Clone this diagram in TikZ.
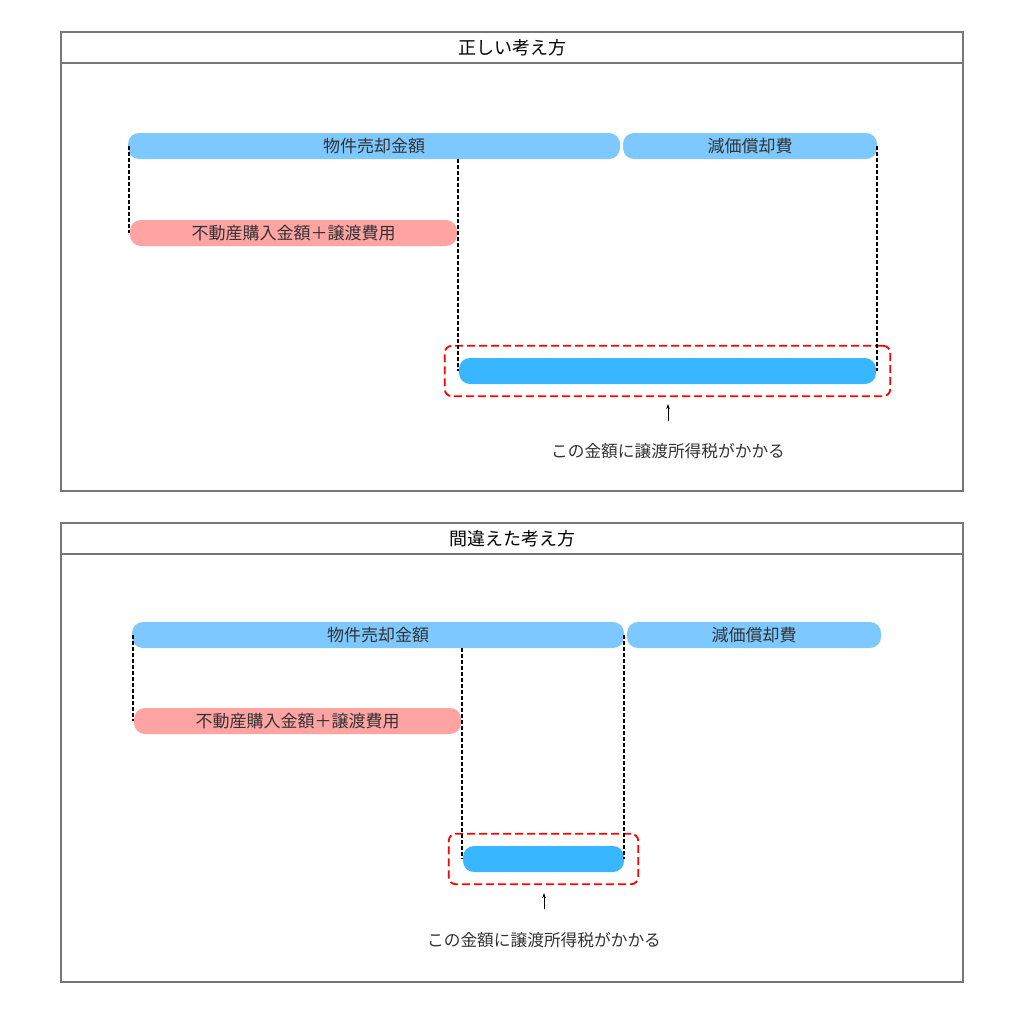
\documentclass[tikz,border=0pt]{standalone}
\usepackage{fontspec}
\setmainfont{Noto Sans CJK JP}
\usetikzlibrary{fit,arrows.meta}
\definecolor{lblue}{HTML}{7DC8FF}
\definecolor{pinkc}{HTML}{FFA3A3}
\definecolor{dblue}{HTML}{38B6FF}
\definecolor{txt}{HTML}{333333}
\definecolor{frame}{HTML}{777777}
\tikzset{
  bar/.style={rectangle, rounded corners=11pt, inner sep=0pt, minimum height=26pt, text=txt, font=\fontsize{17}{17}\selectfont},
  sellbar/.style={bar, fill=lblue},
  costbar/.style={bar, fill=pinkc},
  resbar/.style={bar, fill=dblue},
  conn/.style={draw=black, line width=2.2pt, dash pattern=on 4pt off 2pt},
  redbox/.style={draw=red, line width=1.8pt, dash pattern=on 8pt off 4pt, rounded corners=7pt, inner xsep=14pt, inner ysep=12pt},
  panel/.style={draw=frame, line width=1.2pt},
  ttl/.style={text=black, font=\fontsize{18}{18}\selectfont},
  note/.style={text=txt, font=\fontsize{16.7}{16.7}\selectfont},
  uparrow/.style={draw=black, line width=0.9pt, -{Stealth[length=5pt,width=3.5pt]}}
}
\begin{document}
\begin{tikzpicture}[x=1pt,y=-1pt]
\useasboundingbox[fill=white] (0,0) rectangle (1024,1015);
% ---------- panel 1 ----------
\draw[panel] (61,32) rectangle (963,491);
\draw[panel] (61,63) -- (963,63);
\node[ttl] (t1) at (512,48) {正しい考え方};
\node[sellbar, minimum width=492pt] (sell1) at (374,146) {物件売却金額};
\node[sellbar, minimum width=254pt] (dep1) at (750,146) {減価償却費};
\node[costbar, minimum width=327pt] (cost1) at (293.5,233) {不動産購入金額＋譲渡費用};
\node[resbar, minimum width=417pt] (res1) at (667.5,371) {};
\node[redbox, fit=(res1)] (hl1) {};
\draw[conn] ([xshift=1pt]sell1.west) -- ([xshift=1pt]sell1.west |- cost1.west);
\draw[conn] ([xshift=1pt]cost1.east |- sell1.south) -- ([xshift=1pt]cost1.east |- res1.west);
\draw[conn] (dep1.east) -- (dep1.east |- res1.east);
\node[note] (n1) at (668,451) {この金額に譲渡所得税がかかる};
\coordinate (a1s) at (668,421);
\coordinate (a1e) at (668,404);
\draw[uparrow] (a1s) -- (a1e);
% ---------- panel 2 ----------
\draw[panel] (61,523) rectangle (963,982);
\draw[panel] (61,554) -- (963,554);
\node[ttl] (t2) at (512,539) {間違えた考え方};
\node[sellbar, minimum width=492pt] (sell2) at (378,635) {物件売却金額};
\node[sellbar, minimum width=254pt] (dep2) at (754,635) {減価償却費};
\node[costbar, minimum width=327pt] (cost2) at (297.5,721) {不動産購入金額＋譲渡費用};
\node[resbar, minimum width=161pt] (res2) at (543.5,859) {};
\node[redbox, fit=(res2)] (hl2) {};
\draw[conn] ([xshift=1pt]sell2.west) -- ([xshift=1pt]sell2.west |- cost2.west);
\draw[conn] ([xshift=1pt]cost2.east |- sell2.south) -- ([xshift=1pt]cost2.east |- res2.west);
\draw[conn] (sell2.east) -- (sell2.east |- res2.east);
\node[note] (n2) at (544,940) {この金額に譲渡所得税がかかる};
\coordinate (a2s) at (544,909);
\coordinate (a2e) at (544,893);
\draw[uparrow] (a2s) -- (a2e);
\end{tikzpicture}
\end{document}
